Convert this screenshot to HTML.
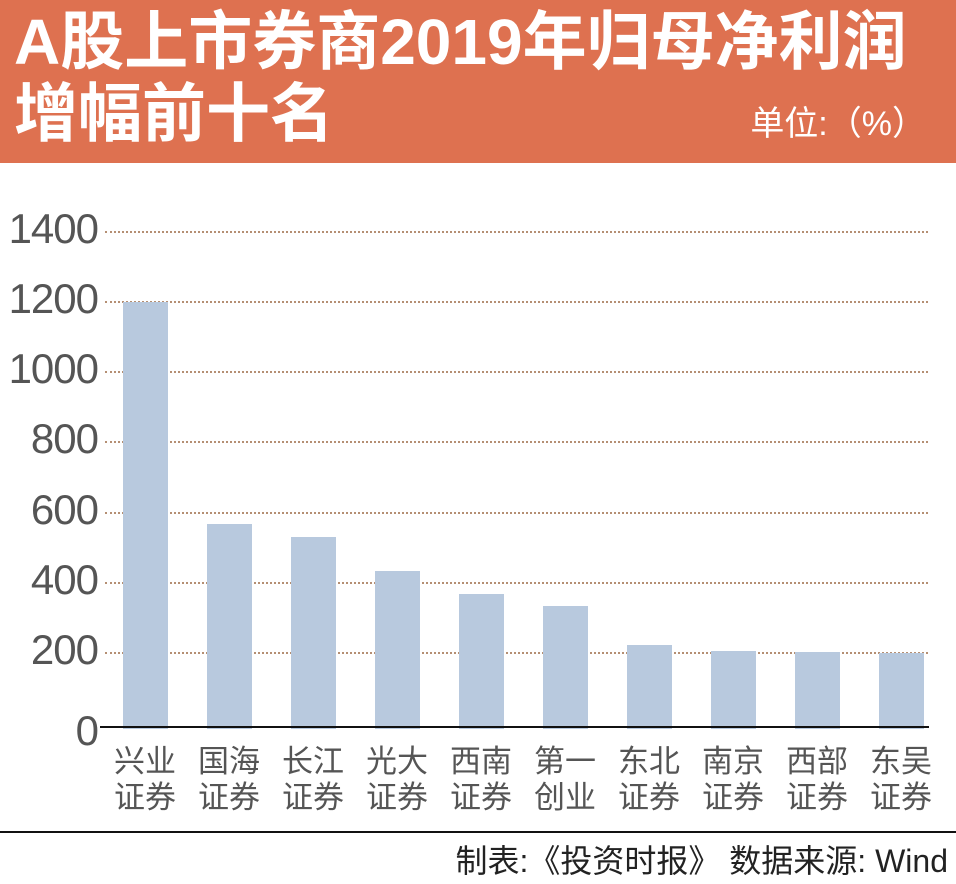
<!DOCTYPE html>
<html><head><meta charset="utf-8"><style>
body{margin:0;width:956px;height:884px;background:#fff;position:relative;overflow:hidden;font-family:"Liberation Sans","Noto Sans CJK SC",sans-serif}
.hd{position:absolute;left:0;top:0;width:956px;height:163px;background:#de7150}
.t{position:absolute;color:#fff;font-weight:bold;font-size:64px;line-height:1;white-space:nowrap;left:14px;letter-spacing:0}
.u{position:absolute;color:#fff;font-size:34px;right:30px;top:96px;white-space:nowrap}
.yl{position:absolute;right:858px;font-size:42px;color:#555;line-height:1;transform:translateY(-50%);letter-spacing:-1px}
.g{position:absolute;left:105px;width:823px;border-top:2px dotted #b58f73}
.b{position:absolute;width:45px;background:#b8c9de;bottom:155px}
.xl{position:absolute;top:744px;width:84px;text-align:center;font-size:31px;line-height:36px;color:#555}
</style></head><body>
<div class="hd"></div>
<div class="t" style="top:10px">A股上市券商2019年归母净利润</div>
<div class="t" style="top:82px">增幅前十名</div>
<div class="u">单位:（%）</div>

<div class="g" style="top:231px"></div>
<div class="g" style="top:301px"></div>
<div class="g" style="top:371px"></div>
<div class="g" style="top:441px"></div>
<div class="g" style="top:512px"></div>
<div class="g" style="top:582px"></div>
<div class="g" style="top:652px"></div>

<div class="yl" style="top:229px">1400</div>
<div class="yl" style="top:299px">1200</div>
<div class="yl" style="top:369px">1000</div>
<div class="yl" style="top:439px">800</div>
<div class="yl" style="top:510px">600</div>
<div class="yl" style="top:580px">400</div>
<div class="yl" style="top:650px">200</div>
<div class="yl" style="top:731px">0</div>

<div class="b" style="left:123px;top:302px"></div>
<div class="b" style="left:207px;top:524px"></div>
<div class="b" style="left:291px;top:537px"></div>
<div class="b" style="left:375px;top:571px"></div>
<div class="b" style="left:459px;top:594px"></div>
<div class="b" style="left:543px;top:606px"></div>
<div class="b" style="left:627px;top:645px"></div>
<div class="b" style="left:711px;top:651px"></div>
<div class="b" style="left:795px;top:652px"></div>
<div class="b" style="left:879px;top:653px"></div>

<div style="position:absolute;left:100px;top:726px;width:829px;height:2px;background:#111"></div>

<div class="xl" style="left:103px">兴业<br>证券</div>
<div class="xl" style="left:187px">国海<br>证券</div>
<div class="xl" style="left:271px">长江<br>证券</div>
<div class="xl" style="left:355px">光大<br>证券</div>
<div class="xl" style="left:439px">西南<br>证券</div>
<div class="xl" style="left:523px">第一<br>创业</div>
<div class="xl" style="left:607px">东北<br>证券</div>
<div class="xl" style="left:691px">南京<br>证券</div>
<div class="xl" style="left:775px">西部<br>证券</div>
<div class="xl" style="left:859px">东吴<br>证券</div>

<div style="position:absolute;left:0;top:831px;width:956px;height:2px;background:#111"></div>
<div style="position:absolute;right:8px;top:842px;font-size:32px;line-height:38px;color:#222;white-space:nowrap">制表:《投资时报》 数据来源: Wind</div>
</body></html>
